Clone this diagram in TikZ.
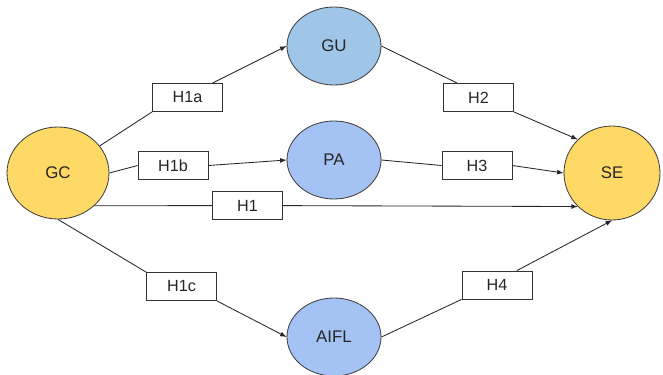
\documentclass[tikz,border=0pt]{standalone}
\usepackage{fontspec}
\setmainfont{Liberation Sans}
\usepackage{xcolor}
\usepackage{tikz}
\usetikzlibrary{shapes.geometric}
\definecolor{gcyellow}{HTML}{FFD966}
\definecolor{gublue}{HTML}{9FC5E8}
\definecolor{medblue}{HTML}{A4C2F4}
\tikzstyle{arrow} = [-latex]
\tikzstyle{outer} = [ellipse, draw=black!75, fill=gcyellow, minimum width=2.55cm, minimum height=2.3cm, inner sep=0, font=\fontsize{12}{14}\selectfont]
\tikzstyle{mediator} = [ellipse, draw=black!75, fill=medblue, minimum width=2.35cm, minimum height=1.95cm, inner sep=0, font=\fontsize{12}{14}\selectfont]
\tikzstyle{hyp} = [rectangle, draw=black!80, fill=white, minimum width=1.75cm, minimum height=0.7cm, inner sep=0]

\begin{document}
\begin{tikzpicture}[node distance=6.9cm, line width=0.6pt, color=black!85, every node/.style={font=\fontsize{11.5}{13}\selectfont}]
		\useasboundingbox (-1.45,-5.025) rectangle (15.125,4.325);

		% constructs
		\node (gc) [outer] {GC};
		\node (pa) [mediator, right of=gc, yshift=0.325cm] {PA};
		\node (gu) [mediator, fill=gublue, above of=pa, node distance=2.85cm] {GU};
		\node (aifl) [mediator, below of=pa, node distance=4.425cm] {AIFL};
		\node (se) [outer, right of=gc, node distance=13.85cm, minimum width=2.4cm, minimum height=2.35cm] {SE};

		% hypotheses
		\node (h1a) [hyp, right of=gc, node distance=3.2375cm, yshift=1.8875cm] {H1a};
		\node (h1b) [hyp, right of=gc, node distance=2.875cm, yshift=0.1875cm] {H1b};
		\node (h1) [hyp, right of=gc, node distance=4.7375cm, yshift=-0.8125cm] {H1};
		\node (h1c) [hyp, right of=gc, node distance=3.0875cm, yshift=-2.8375cm] {H1c};
		\node (h2) [hyp, right of=gc, node distance=10.5125cm, yshift=1.8875cm] {H2};
		\node (h3) [hyp, right of=gc, node distance=10.475cm, yshift=0.1875cm] {H3};
		\node (h4) [hyp, right of=gc, node distance=10.975cm, yshift=-2.8cm] {H4};

		\draw (gc) -- (h1a.south west);
		\draw [arrow] (h1a.30) -- (gu.west);
		\draw (gc.east) -- (h1b.west);
		\draw [arrow] (h1b.east) -- (pa.west);
		\draw (gc.south east) -- (h1);
		\draw [arrow] (h1) -- (se.south west);
		\draw (gc.south) -- (h1c.north west);
		\draw [arrow] (h1c.south east) -- (aifl.west);

		\draw (gu.east) -- (h2.146);
		\draw [arrow] (h2.south east) -- (se.north west);
		\draw (pa.east) -- (h3.west);
		\draw [arrow] (h3.east) -- (se.west);
		\draw (aifl.east) -- (h4.south west);
		\draw [arrow] (h4.36) -- (se.south);
	\end{tikzpicture}
\end{document}
